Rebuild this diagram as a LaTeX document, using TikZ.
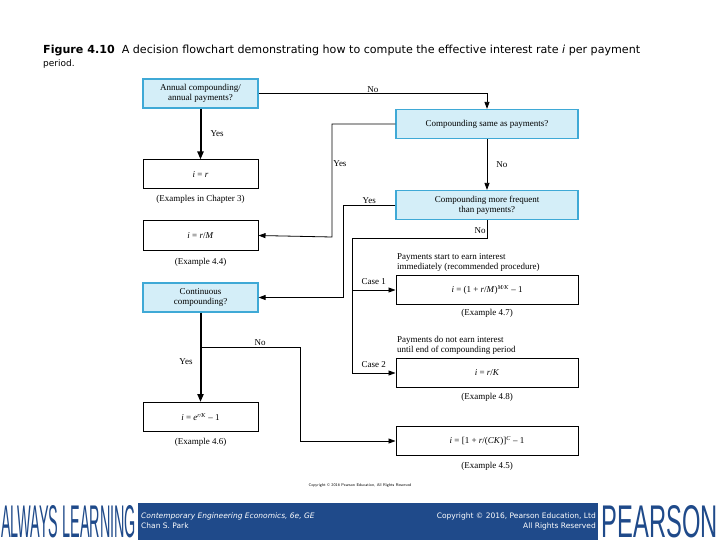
\documentclass[tikz,border=0pt]{standalone}
\usepackage{fontspec}
\setmainfont{Liberation Serif}
\newfontfamily\capfont{DejaVu Sans}
\newfontfamily\logofont{Liberation Sans}
\usetikzlibrary{arrows.meta}
\definecolor{qblue}{HTML}{D4EEF8}
\definecolor{qedge}{HTML}{3FA9D6}
\definecolor{barblue}{HTML}{1F4A8A}
\newcommand{\ii}{\textit{i}}
\newcommand{\rr}{\textit{r}}
\begin{document}
\begin{tikzpicture}[x=1pt,y=-1pt,
  q/.style={draw=qedge,fill=qblue,line width=1.2pt,minimum width=115pt,minimum height=29pt,inner sep=1pt,align=center,font=\fontsize{9}{10}\selectfont},
  qw/.style={q,minimum width=182pt},
  r/.style={draw,line width=1pt,minimum width=115pt,minimum height=29pt,inner sep=1pt,align=center,font=\fontsize{9}{10}\selectfont},
  rw/.style={r,minimum width=182pt},
  lbl/.style={font=\fontsize{9}{10}\selectfont,inner sep=1pt,align=left},
  ln/.style={line width=0.8pt,-{Triangle[length=7pt,width=5pt]}},
  tk/.style={line width=2pt,-{Triangle[length=8pt,width=6pt]}}]
\useasboundingbox (0,0) rectangle (720,540);
\fill[white] (0,0) rectangle (720,540);
\node[anchor=north west,font=\capfont\fontsize{9}{13}\selectfont,align=left,inner sep=0pt] (cap) at (43,45)
 {\resizebox{597pt}{!}{\textbf{Figure 4.10}\ \ A decision flowchart demonstrating how to compute the effective interest rate \textit{i} per payment}\\period.};
\node[q] (A) at (200.5,93.5) {Annual compounding/\\annual payments?};
\node[qw] (B) at (487,124) {Compounding same as payments?};
\node[r] (C) at (200.5,174.5) {\ii{} = \rr};
\node[lbl] (Cl) at (200.5,199) {(Examples in Chapter 3)};
\node[qw] (D) at (487,205) {Compounding more frequent\\than payments?};
\node[r] (E) at (200.5,235.5) {\ii{} = \rr/\textit{M}};
\node[lbl] (El) at (200.5,262) {(Example 4.4)};
\node[q] (F) at (200.5,297.5) {Continuous\\compounding?};
\node[rw] (G) at (487,290) {\ii{} = (1 + \rr/\textit{M})\textsuperscript{\textit{M/K}} -- 1};
\node[lbl,anchor=south west] (Gt) at (396,273) {Payments start to earn interest\\immediately (recommended procedure)};
\node[lbl] (Gl) at (487,313) {(Example 4.7)};
\node[rw] (H) at (487,373) {\ii{} = \rr/\textit{K}};
\node[lbl,anchor=south west] (Ht) at (396,356) {Payments do not earn interest\\until end of compounding period};
\node[lbl] (Hl) at (487,397) {(Example 4.8)};
\node[r] (I) at (200.5,417) {\ii{} = \textit{e}\textsuperscript{\textit{r/K}} -- 1};
\node[lbl] (Il) at (200.5,442) {(Example 4.6)};
\node[rw] (J) at (487,441) {\ii{} = [1 + \rr/(\textit{CK})]\textsuperscript{\textit{C}} -- 1};
\node[lbl] (Jl) at (487,466) {(Example 4.5)};
\node[font=\sffamily\fontsize{4}{5}\selectfont] (cp) at (360,485) {Copyright \copyright\ 2016 Pearson Education, All Rights Reserved};
% connectors
\draw[ln] (A.east) -- (487,93.5) node[lbl,midway,above] {No} -- (B.north);
\draw[tk] (A.south) -- node[lbl,right=8pt] {Yes} (C.north);
\draw[ln] (B.west) -- (332,124) -- node[lbl,pos=0.35,right] {Yes} (332,237) -- (E.east);
\draw[ln] (B.south) -- node[lbl,right=8pt] {No} (D.north);
\draw[ln] (D.west) -- node[lbl,above] {Yes} (343,205) -- (343,297.5) -- (F.east);
\coordinate (d1) at (487,238);
\coordinate (d2) at (352,238);
\draw[line width=0.8pt] (D.south) -- node[lbl,left,pos=0.6] {No} (d1) -- (d2) -- (352,290);
\draw[ln] (352,290) -- (352,373) -- node[lbl,above=4pt] {Case 2} (H.west);
\draw[ln] (352,290) -- node[lbl,above=4pt] {Case 1} (G.west);
\draw[tk] (F.south) -- node[lbl,left=6pt,pos=0.55] {Yes} (I.north);
\draw[ln] (200.5,347) -- node[lbl,above,pos=0.6] {No} (300,347) -- (300,441) -- (J.west);
% footer
\fill[barblue] (0,503) rectangle (720,540);
\fill[white] (0,503) rectangle (138,540);
\fill[white] (598,503) rectangle (720,540);
\node[text=barblue,anchor=west,inner sep=0pt] (al) at (1,522) {\resizebox{135pt}{32pt}{\logofont ALWAYS LEARNING}};
\node[text=barblue,anchor=east,inner sep=0pt] (pe) at (718,522) {\resizebox{116pt}{32pt}{\logofont PEARSON}};
\node[text=white,font=\capfont\fontsize{7.5}{10}\selectfont,anchor=west,align=left,inner sep=0pt] (bt) at (141,521) {\textit{Contemporary Engineering Economics, 6e, GE}\\Chan S. Park};
\node[text=white,font=\capfont\fontsize{7.5}{10}\selectfont,anchor=east,align=right,inner sep=0pt] (bc) at (596,521) {Copyright \copyright\ 2016, Pearson Education, Ltd\\All Rights Reserved};
\end{tikzpicture}
\end{document}
